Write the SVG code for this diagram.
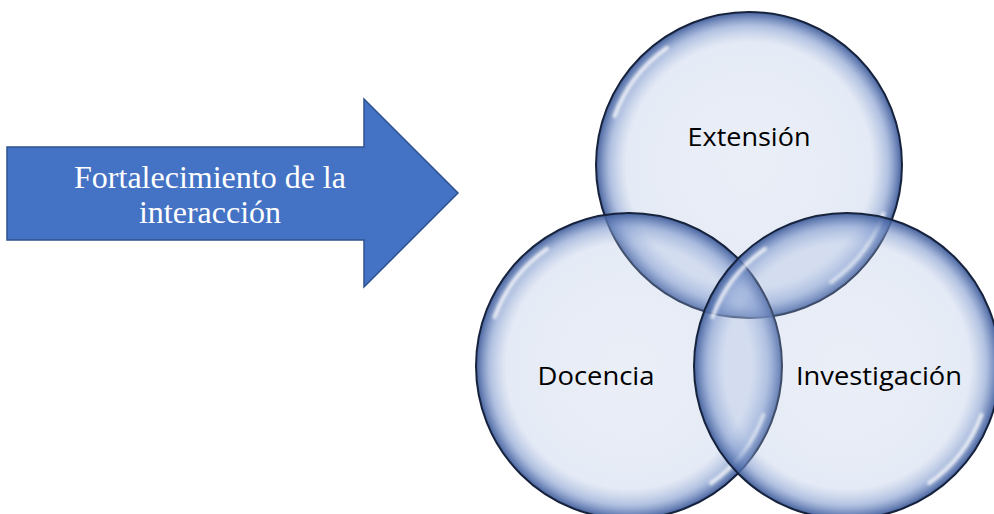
<svg xmlns="http://www.w3.org/2000/svg" width="994" height="514" viewBox="0 0 994 514">
<defs>
<radialGradient id="bub" cx="0.5" cy="0.5" r="0.5">
<stop offset="0" stop-color="#A8BBE0" stop-opacity="0.24"/>
<stop offset="0.8" stop-color="#A8BBE0" stop-opacity="0.3"/>
<stop offset="0.91" stop-color="#7D97CC" stop-opacity="0.6"/>
<stop offset="1" stop-color="#3C5A99" stop-opacity="0.95"/>
</radialGradient>
<filter id="soft" x="-20%" y="-20%" width="140%" height="140%"><feGaussianBlur stdDeviation="1.8"/></filter>
</defs>
<style>
.bubble{fill:url(#bub);stroke:#17233d;stroke-width:2}
.hl{fill:none;stroke:#ffffff;stroke-width:4;stroke-linecap:round;opacity:0.8;filter:url(#soft)}
.lbl{font-family:"Open Sans","Liberation Sans",Arial,sans-serif;font-size:25px;fill:#000;text-anchor:middle}
.arrow{fill:#4472C4;stroke:#2F528F;stroke-width:1.5}
.atext{font-family:"Liberation Serif","Times New Roman",serif;font-size:32px;fill:#fff;text-anchor:middle}
</style>
<g id="arrow-node">
<path class="arrow" d="M7,147 H364 V99 L458,193 L364,287 V240 H7 Z"/>
<text class="atext" x="210" y="188">Fortalecimiento de la</text>
<text class="atext" x="210" y="223">interacción</text>
</g>
<g id="extension">
<circle class="bubble" cx="749" cy="165" r="153"/>
<path class="hl" d="M614.6,116.1 A143,143 0 0 1 667,47.9"/>
<path class="hl" d="M883.4,213.9 A143,143 0 0 1 831,282.1"/>
<text class="lbl" x="749" y="146" textLength="123" lengthAdjust="spacingAndGlyphs">Extensión</text>
</g>
<g id="docencia">
<circle class="bubble" cx="629" cy="366" r="153"/>
<path class="hl" d="M494.6,317.1 A143,143 0 0 1 547,248.9"/>
<path class="hl" d="M763.4,414.9 A143,143 0 0 1 711,483.1"/>
<text class="lbl" x="596" y="385" textLength="117" lengthAdjust="spacingAndGlyphs">Docencia</text>
</g>
<g id="investigacion">
<circle class="bubble" cx="847" cy="366" r="153"/>
<path class="hl" d="M712.6,317.1 A143,143 0 0 1 765,248.9"/>
<path class="hl" d="M981.4,414.9 A143,143 0 0 1 929,483.1"/>
<text class="lbl" x="879" y="385" textLength="166" lengthAdjust="spacingAndGlyphs">Investigación</text>
</g>
<g id="connectors"/>
</svg>
